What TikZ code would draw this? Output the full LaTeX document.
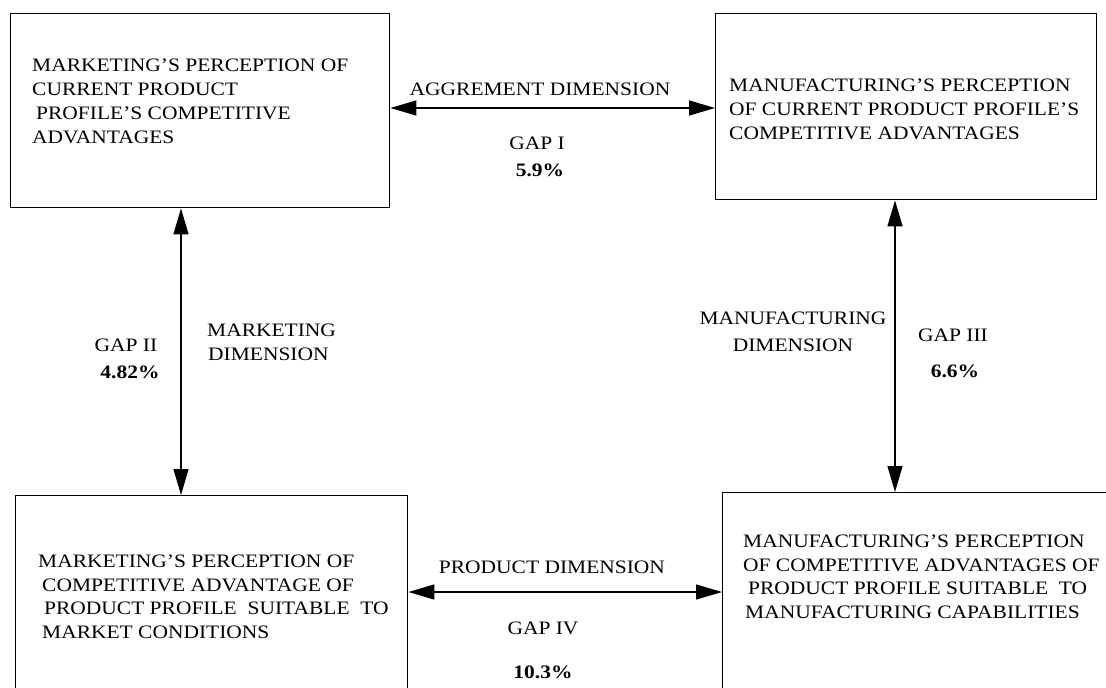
\documentclass[tikz,border=0pt]{standalone}
\usepackage{fontspec}
\setmainfont[FakeStretch=1.13]{Liberation Serif}
\usetikzlibrary{arrows.meta}
\begin{document}
\begin{tikzpicture}[x=1pt,y=-1pt,
  panel/.style={draw, line width=1.4pt, rectangle, inner sep=0pt, anchor=north west},
  txt/.style={inner sep=0pt, anchor=base west, font=\fontsize{19}{23}\selectfont},
  lbl/.style={inner sep=0pt, anchor=base, font=\fontsize{19}{23}\selectfont},
  pct/.style={lbl, font=\fontsize{19}{23}\selectfont\bfseries},
  gaparrow/.style={line width=1.3pt,
    {Triangle[length=26pt,width=15pt]}-{Triangle[length=26pt,width=15pt]}}
]
\useasboundingbox (0,0) rectangle (1106,688);
\clip (0,0) rectangle (1106,688);

% the four perception boxes
\node[panel, minimum width=379pt, minimum height=194pt] (tl) at (10,13) {};
\node[panel, minimum width=381pt, minimum height=186pt] (tr) at (715,13) {};
\node[panel, minimum width=392pt, minimum height=240pt] (bl) at (15,495) {};
\node[panel, minimum width=400pt, minimum height=240pt] (br) at (722,492) {};

% box texts
\node[txt] (tl1) at (32,71)  {MARKETING'S PERCEPTION OF};
\node[txt] (tl2) at (32,95)  {CURRENT PRODUCT};
\node[txt] (tl3) at (36,119) {PROFILE'S COMPETITIVE};
\node[txt] (tl4) at (32,143) {ADVANTAGES};

\node[txt] (tr1) at (729,91)  {MANUFACTURING'S PERCEPTION};
\node[txt] (tr2) at (729,115) {OF CURRENT PRODUCT PROFILE'S};
\node[txt] (tr3) at (729,139) {COMPETITIVE ADVANTAGES};

\node[txt] (bl1) at (38,567) {MARKETING'S PERCEPTION OF};
\node[txt] (bl2) at (42,591) {COMPETITIVE ADVANTAGE OF};
\node[txt] (bl3) at (44,614) {PRODUCT PROFILE\ \ SUITABLE\ \ TO};
\node[txt] (bl4) at (42,638) {MARKET CONDITIONS};

\node[txt] (br1) at (743,547) {MANUFACTURING'S PERCEPTION};
\node[txt] (br2) at (743,571) {OF COMPETITIVE ADVANTAGES OF};
\node[txt] (br3) at (748,594) {PRODUCT PROFILE SUITABLE\ \ TO};
\node[txt] (br4) at (745,618) {MANUFACTURING CAPABILITIES};

% connector levels
\coordinate (ty) at (0,108);
\coordinate (by) at (0,592);
\coordinate (lx) at (181,0);
\coordinate (rx) at (895,0);

% gap connectors
\draw[gaparrow] (tl.east |- ty) -- (tr.west |- ty);
\draw[gaparrow] (bl.east |- by) -- (br.west |- by);
\draw[gaparrow] (tl.south -| lx) -- (bl.north -| lx);
\draw[gaparrow] (tr.south -| rx) -- (br.north -| rx);

% gap labels
\node[lbl] (agr)  at (540,95)  {AGGREMENT DIMENSION};
\node[lbl] (g1)   at (537,149) {GAP I};
\node[pct] (p1)   at (540,176) {5.9\%};

\node[lbl] (prd)  at (552,573) {PRODUCT DIMENSION};
\node[lbl] (g4)   at (543,634) {GAP IV};
\node[pct] (p4)   at (543,678) {10.3\%};

\node[lbl] (g2)   at (126,351) {GAP II};
\node[pct] (p2)   at (130,378) {4.82\%};
\node[txt] (mkt1) at (207,336) {MARKETING};
\node[txt] (mkt2) at (208,360) {DIMENSION};

\node[lbl] (mfg1) at (793,324) {MANUFACTURING};
\node[lbl] (mfg2) at (793,351) {DIMENSION};
\node[lbl] (g3)   at (953,341) {GAP III};
\node[pct] (p3)   at (955,377) {6.6\%};
\end{tikzpicture}
\end{document}
